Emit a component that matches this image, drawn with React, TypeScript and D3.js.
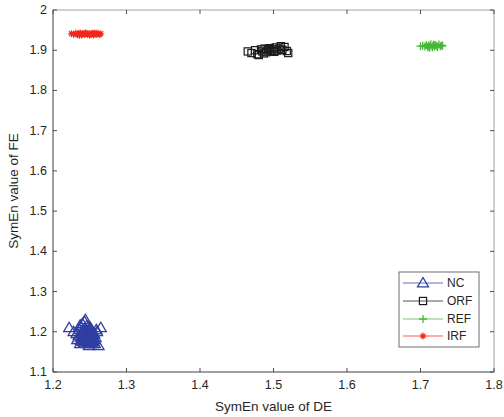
import React from "react";
import * as d3 from "d3";

const xTicks = [1.2, 1.3, 1.4, 1.5, 1.6, 1.7, 1.8];
const yTicks = [1.1, 1.2, 1.3, 1.4, 1.5, 1.6, 1.7, 1.8, 1.9, 2];
const seriesNames = ["NC", "ORF", "REF", "IRF"];

const ncX = [1.222, 1.228, 1.232, 1.236, 1.238, 1.240, 1.242, 1.244, 1.245, 1.246, 1.248, 1.250, 1.252, 1.254, 1.256, 1.258, 1.260, 1.262, 1.265, 1.233, 1.237, 1.241, 1.243, 1.247, 1.249, 1.251, 1.253, 1.255, 1.239, 1.257, 1.235, 1.259,
  1.238, 1.240, 1.242, 1.244, 1.246, 1.248, 1.250, 1.252, 1.254, 1.256, 1.239, 1.241, 1.243, 1.245, 1.247, 1.249, 1.251, 1.253, 1.255, 1.240, 1.244, 1.248, 1.252, 1.246, 1.250, 1.242, 1.254, 1.237];
const ncY = [1.210, 1.200, 1.195, 1.205, 1.185, 1.220, 1.190, 1.230, 1.175, 1.215, 1.200, 1.180, 1.205, 1.170, 1.195, 1.185, 1.200, 1.165, 1.210, 1.180, 1.170, 1.200, 1.225, 1.190, 1.165, 1.210, 1.185, 1.175, 1.195, 1.170, 1.190, 1.205,
  1.178, 1.188, 1.172, 1.195, 1.182, 1.176, 1.192, 1.174, 1.186, 1.180, 1.198, 1.176, 1.184, 1.190, 1.170, 1.182, 1.188, 1.178, 1.192, 1.184, 1.204, 1.212, 1.198, 1.194, 1.172, 1.186, 1.180, 1.216, 1.176];

const orfX = [1.465, 1.470, 1.475, 1.478, 1.480, 1.483, 1.485, 1.488, 1.490, 1.492, 1.495, 1.497, 1.500, 1.503, 1.505, 1.508, 1.510, 1.512, 1.515, 1.518, 1.520, 1.487, 1.493, 1.501];
const orfY = [1.897, 1.893, 1.900, 1.890, 1.888, 1.902, 1.897, 1.904, 1.895, 1.900, 1.905, 1.898, 1.902, 1.907, 1.899, 1.904, 1.910, 1.901, 1.908, 1.898, 1.893, 1.892, 1.903, 1.896];

const refX = [1.700, 1.703, 1.706, 1.708, 1.710, 1.711, 1.713, 1.714, 1.716, 1.717, 1.719, 1.720, 1.722, 1.723, 1.725, 1.727, 1.729, 1.730, 1.712, 1.718];
const refY = [1.910, 1.911, 1.909, 1.913, 1.908, 1.912, 1.910, 1.915, 1.907, 1.912, 1.909, 1.913, 1.911, 1.908, 1.914, 1.910, 1.912, 1.911, 1.906, 1.914];

const irfX = [1.225, 1.228, 1.231, 1.233, 1.235, 1.237, 1.239, 1.241, 1.243, 1.245, 1.247, 1.249, 1.251, 1.253, 1.255, 1.257, 1.259, 1.261, 1.263, 1.265, 1.236, 1.244, 1.250, 1.256];
const irfY = [1.941, 1.940, 1.942, 1.939, 1.941, 1.943, 1.938, 1.941, 1.940, 1.942, 1.939, 1.941, 1.940, 1.942, 1.938, 1.941, 1.940, 1.942, 1.939, 1.941, 1.937, 1.943, 1.938, 1.943];

const W = 504, H = 417;
const L = 53, R = 494, T = 10, B = 372;
const FONT = "'Liberation Sans', Arial, sans-serif";
const colors = ["#2f3ea3", "#1a1a1a", "#45b83a", "#f2281c"];

function Marker({ kind, x, y, color }: { kind: number; x: number; y: number; color: string }) {
  if (kind === 0) {
    const s = 5.5;
    return <path d={`M${x},${y - s}L${x + s},${y + s * 0.7}L${x - s},${y + s * 0.7}Z`} fill="none" stroke={color} strokeWidth={1.3} />;
  }
  if (kind === 1) {
    const s = 3.6;
    return <rect x={x - s} y={y - s} width={2 * s} height={2 * s} fill="none" stroke={color} strokeWidth={1.2} />;
  }
  if (kind === 2) {
    const s = 4;
    return <path d={`M${x - s},${y}H${x + s}M${x},${y - s}V${y + s}`} stroke={color} strokeWidth={1.3} />;
  }
  const s = 3.5;
  const d = s * 0.7;
  return <path d={`M${x - s},${y}H${x + s}M${x},${y - s}V${y + s}M${x - d},${y - d}L${x + d},${y + d}M${x - d},${y + d}L${x + d},${y - d}`} stroke={color} strokeWidth={1.2} />;
}

export default function App() {
  const x = d3.scaleLinear().domain([1.2, 1.8]).range([L, R]);
  const y = d3.scaleLinear().domain([1.1, 2]).range([B, T]);
  const series = [
    { xs: ncX, ys: ncY },
    { xs: orfX, ys: orfY },
    { xs: refX, ys: refY },
    { xs: irfX, ys: irfY },
  ];
  const axisColor = "#262626";
  const tickColor = "#4d4d4d";
  const lgX = 399, lgY = 272, lgW = 80, lgH = 75;
  const rowYs = [283, 301, 319, 336];
  return (
    <svg width={W} height={H} style={{ position: "absolute", left: 0, top: 0, background: "#fff" }}>
      <rect x={0} y={0} width={W} height={H} fill="#fff" />
      <path d={`M${L},${T}H${R}V${B}H${L}Z`} fill="none" stroke="#a0a0a0" strokeWidth={1} />
      <path d={`M${L},${T}V${B}H${R}`} fill="none" stroke="#6e6e6e" strokeWidth={1} />
      {xTicks.map((t) => (
        <g key={"x" + t}>
          <line x1={x(t)} x2={x(t)} y1={B} y2={B - 4} stroke={tickColor} />
          <line x1={x(t)} x2={x(t)} y1={T} y2={T + 4} stroke={tickColor} />
          <text x={x(t)} y={B + 17} textAnchor="middle" fontFamily={FONT} fontSize={12.5} fill={axisColor}>{d3.format(".1f")(t)}</text>
        </g>
      ))}
      {yTicks.map((t) => (
        <g key={"y" + t}>
          <line x1={L} x2={L + 4} y1={y(t)} y2={y(t)} stroke={tickColor} />
          <line x1={R} x2={R - 4} y1={y(t)} y2={y(t)} stroke={tickColor} />
          <text x={L - 6} y={y(t) + 4} textAnchor="end" fontFamily={FONT} fontSize={12.5} fill={axisColor}>{t === 2 ? "2" : d3.format(".1f")(t)}</text>
        </g>
      ))}
      <text x={(L + R) / 2} y={411} textAnchor="middle" fontFamily={FONT} fontSize={13.5} fill={axisColor}>SymEn value of DE</text>
      <text transform={`translate(18,${(T + B) / 2}) rotate(-90)`} textAnchor="middle" fontFamily={FONT} fontSize={13.5} fill={axisColor}>SymEn value of FE</text>
      {series.map((s, i) => (
        <g key={"s" + i}>
          {s.xs.map((v, j) => (
            <Marker key={j} kind={i} x={x(v)} y={y(s.ys[j])} color={colors[i]} />
          ))}
        </g>
      ))}
      <rect x={lgX} y={lgY} width={lgW} height={lgH} fill="#fff" stroke="#6e6e6e" strokeWidth={1} />
      {seriesNames.map((n, i) => (
        <g key={n}>
          <line x1={403} x2={443} y1={rowYs[i]} y2={rowYs[i]} stroke={colors[i]} strokeWidth={1} opacity={0.75} />
          <Marker kind={i} x={423} y={rowYs[i]} color={colors[i]} />
          <text x={447} y={rowYs[i] + 4} fontFamily={FONT} fontSize={12} fill={axisColor}>{n}</text>
        </g>
      ))}
    </svg>
  );
}
